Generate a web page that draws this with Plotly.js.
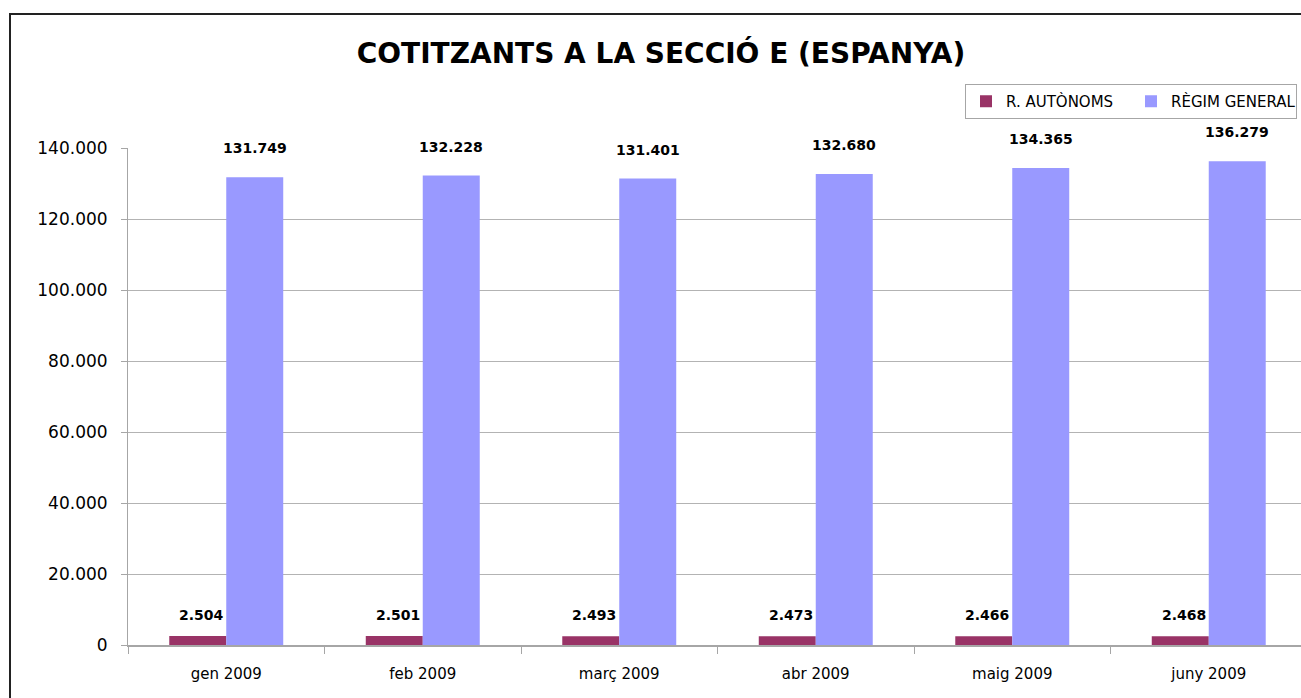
<!DOCTYPE html>
<html>
<head>
<meta charset="utf-8">
<script src="https://cdn.plot.ly/plotly-3.0.1.min.js"></script>
<style>
html,body{margin:0;padding:0;overflow:hidden;background:#fff;width:1301px;height:698px;}
#wrap{position:relative;width:1301px;height:698px;overflow:hidden;}
#chart{position:absolute;left:0;top:0;width:1307px;height:698px;}
#frame{position:absolute;left:9px;top:13px;width:1400px;height:800px;border-left:2px solid #222;border-top:2px solid #222;pointer-events:none;}
</style>
</head>
<body>
<div id="wrap"><div id="chart"></div><div id="frame"></div></div>
<script>
const categories = ["gen 2009", "feb 2009", "març 2009", "abr 2009", "maig 2009", "juny 2009"];
const autonoms = [2504, 2501, 2493, 2473, 2466, 2468];
const general = [131749, 132228, 131401, 132680, 134365, 136279];
const seriesNames = ["R. AUTÒNOMS", "RÈGIM GENERAL"];
const yTicks = [0, 20000, 40000, 60000, 80000, 100000, 120000, 140000];

const fmt = v => v.toLocaleString('de-DE');

const traces = [
  {type:'bar', name:seriesNames[0], x:categories, y:autonoms, marker:{color:'#993366'}, hoverinfo:'skip'},
  {type:'bar', name:seriesNames[1], x:categories, y:general, marker:{color:'#9999FF'}, hoverinfo:'skip'}
];

const annotations = [];
categories.forEach((c,i)=>{
  annotations.push({x:c, y:autonoms[i], xref:'x', yref:'y', text:fmt(autonoms[i]), showarrow:false,
    xshift:-25, yshift:21, yanchor:'middle', font:{family:'DejaVu Sans', size:14, color:'#000', weight:'bold'}});
  annotations.push({x:c, y:general[i], xref:'x', yref:'y', text:fmt(general[i]), showarrow:false,
    xshift:28.5, yshift:29, yanchor:'middle', font:{family:'DejaVu Sans', size:14, color:'#000', weight:'bold'}});
});

const layout = {
  width:1307, height:698,
  margin:{l:128, r:0, t:148, b:53, autoexpand:false},
  paper_bgcolor:'#fff', plot_bgcolor:'#fff',
  barmode:'group', bargap:0.42, bargroupgap:0,
  separators:',.',
  title:{text:'COTITZANTS A LA SECCIÓ E (ESPANYA)', x:661/1307, xanchor:'center', y:1-53/698, yanchor:'middle',
    font:{family:'DejaVu Sans', size:28, color:'#000', weight:'bold'}},
  xaxis:{type:'category', showgrid:false, showline:true, linecolor:'#a6a6a6', linewidth:2,
    ticks:'outside', ticklen:7, tickcolor:'#a6a6a6', tickson:'boundaries', ticklabelstandoff:14,
    tickfont:{family:'DejaVu Sans', size:15, color:'#000'}, fixedrange:true},
  yaxis:{range:[0,140000], tickvals:yTicks, ticktext:yTicks.map(fmt), showgrid:true, gridcolor:'#b3b3b3', gridwidth:1,
    showline:true, linecolor:'#a6a6a6', linewidth:1, ticks:'outside', ticklen:6, tickcolor:'#a6a6a6',
    ticklabelstandoff:10, zeroline:false,
    tickfont:{family:'DejaVu Sans', size:17, color:'#000'}, fixedrange:true},
  legend:{orientation:'h', x:(965-128)/1179, xanchor:'left', y:(645-84)/497, yanchor:'top',
    entrywidth:120, entrywidthmode:'pixels',
    bordercolor:'#a6a6a6', borderwidth:1, bgcolor:'#fff',
    font:{family:'DejaVu Sans', size:15, color:'#000'}},
  annotations:annotations,
  showlegend:true
};

Plotly.newPlot('chart', traces, layout, {displayModeBar:false, staticPlot:true});
</script>
</body>
</html>
